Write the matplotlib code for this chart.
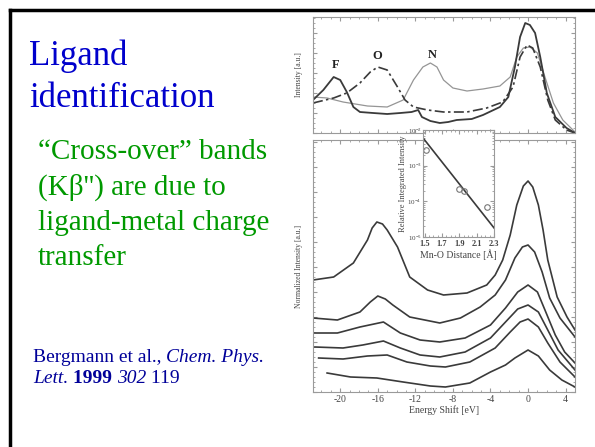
import matplotlib
matplotlib.use("Agg")
import matplotlib.pyplot as plt
from matplotlib.lines import Line2D
from matplotlib.ticker import MultipleLocator, LogLocator, NullFormatter

plt.rcParams['font.family'] = ['Liberation Serif', 'DejaVu Serif']
plt.rcParams['mathtext.fontset'] = 'stix'
plt.rcParams['axes.unicode_minus'] = False

# --- upper panel: ligand series (energy shift in eV, intensity a.u.) ---
energy_F = [-22.9, -21.8, -20.7, -20.0, -19.3, -18.6, -17.9, -16.5, -15.0, -13.6, -12.4, -11.7,
            -11.3, -10.4, -9.4, -8.5, -7.6, -6.0, -4.8, -3.0, -2.1, -1.4, -0.85, -0.3, 0.2, 0.75,
            1.3, 2.0, 2.9, 4.1, 5.0]
int_F = [33, 43, 56, 53, 41, 26, 21, 20, 19, 20, 21, 23, 16, 12, 10, 11, 13, 14, 18, 26, 36, 66,
         96, 110, 108, 100, 76, 40, 16, 5, 0]

energy_O = [-22.9, -20.7, -19.3, -17.9, -16.8, -16.0, -15.0, -13.9, -13.1, -12.2, -10.7, -9.0,
            -6.5, -4.4, -2.7, -1.6, -0.85, -0.1, 0.5, 1.3, 2.1, 2.9, 4.1, 5.0]
int_O = [30, 35, 40, 50, 61, 66, 63, 46, 33, 26, 23, 21, 21, 25, 31, 46, 76, 88, 85, 66, 33, 13, 3, 0]

energy_N = [-22.9, -21.4, -19.7, -17.1, -15.0, -13.3, -12.2, -11.2, -10.4, -9.7, -9.0, -8.0,
            -6.5, -4.8, -3.0, -1.9, -1.2, -0.5, 0.2, 1.0, 1.8, 2.7, 3.7, 5.0]
int_N = [36, 35, 31, 27, 26, 33, 53, 66, 70, 66, 53, 45, 42, 44, 47, 56, 76, 85, 86, 80, 56, 30, 13, 1]

# --- lower panel: normalized spectra, top to bottom ---
e1 = [-22.9, -20.7, -18.6, -17.1, -16.6, -16.1, -15.5, -15.0, -13.9, -12.6, -10.7, -9.0, -6.5,
      -4.4, -3.5, -2.7, -1.9, -1.2, -0.5, 0.0, 0.5, 1.1, 1.6, 2.1, 3.1, 4.15, 5.0]
s1 = [112, 115, 129, 152, 164, 170, 168, 162, 145, 115, 102, 97, 99, 107, 117, 132, 157, 187,
      206, 211, 205, 187, 162, 132, 95, 75, 62]
e2 = [-22.9, -20.3, -17.9, -16.8, -16.0, -15.2, -14.4, -12.6, -9.4, -7.2, -5.1, -3.5, -2.4, -1.4,
      -0.6, 0.0, 0.7, 1.5, 2.3, 3.4, 5.0]
s2 = [74, 72, 80, 90, 96, 93, 87, 75, 69, 74, 85, 97, 112, 134, 145, 147, 140, 120, 94, 74, 55]
e3 = [-22.9, -20.3, -17.9, -15.4, -13.6, -11.5, -9.4, -6.7, -4.0, -2.4, -1.1, 0.0, 1.0, 1.8, 2.9,
      3.9, 5.0]
s3 = [59, 59, 65, 70, 59, 52, 50, 54, 67, 84, 100, 107, 100, 82, 57, 40, 29]
e4 = [-22.7, -19.7, -17.6, -15.4, -13.6, -11.5, -9.4, -6.7, -4.0, -2.4, -1.1, 0.0, 1.1, 2.1, 3.2, 5.0]
s4 = [45, 44, 47, 51, 44, 37, 35, 40, 54, 70, 83, 87, 80, 62, 42, 22]
e5 = [-22.3, -19.7, -17.1, -15.0, -12.9, -10.4, -8.8, -6.2, -3.5, -1.9, -0.85, 0.0, 1.1, 2.1, 3.4, 5.0]
s5 = [34, 33, 36, 37, 30, 26, 25, 30, 44, 60, 70, 73, 65, 49, 30, 15]
e6 = [-21.4, -18.9, -16.1, -13.3, -10.4, -8.8, -6.2, -4.0, -2.4, -1.4, 0.0, 1.1, 2.3, 3.6, 5.0]
s6 = [19, 15, 14, 10, 6, 5, 9, 20, 27, 34, 42, 36, 22, 12, 5]

# --- inset: intensity vs Mn-O distance ---
mno_dist = [1.52, 1.89, 1.95, 2.22]
rel_int = [2.8e-3, 2.2e-4, 2.0e-4, 7e-5]
fit_dist = [1.48, 2.3]
fit_int = [6e-3, 1.8e-5]

x_ticks = [-20, -16, -12, -8, -4, 0, 4]
inset_ticks = [1.5, 1.7, 1.9, 2.1, 2.3]

W, H = 595, 447
fig = plt.figure(figsize=(W / 100, H / 100), dpi=100)

def fx(px):
    return px / W

def fy(py):
    return 1 - py / H

# slide border
fig.add_artist(Line2D([fx(10), fx(10)], [0, fy(10)], color='black', lw=2.5,
                      transform=fig.transFigure, solid_capstyle='projecting'))
fig.add_artist(Line2D([fx(10), 1], [fy(10), fy(10)], color='black', lw=2.5,
                      transform=fig.transFigure, solid_capstyle='projecting'))

spine_col = '#9a9a9a'
text_col = '#444444'
curve_col = '#3a3a3a'

def style_axes(ax):
    for sp in ax.spines.values():
        sp.set_color(spine_col)
        sp.set_linewidth(0.8)
    ax.tick_params(which='both', direction='in', top=True, right=True, colors=spine_col,
                   labelcolor=text_col, labelsize=7)
    ax.tick_params(which='major', length=3)
    ax.tick_params(which='minor', length=1.5)

# upper panel
ax1 = fig.add_axes([fx(313), fy(133), fx(575) - fx(313), fy(17) - fy(133)])
ax1.plot(energy_N, int_N, color='#959595', lw=0.9)
ax1.plot(energy_O, int_O, color=curve_col, lw=1.2, ls=(0, (6, 2, 1.5, 2)))
ax1.plot(energy_F, int_F, color=curve_col, lw=1.3)
ax1.set_xlim(-22.9, 5.0)
ax1.set_ylim(0, 116)
style_axes(ax1)
ax1.xaxis.set_major_locator(MultipleLocator(4))
ax1.xaxis.set_minor_locator(MultipleLocator(1))
ax1.yaxis.set_major_locator(MultipleLocator(20))
ax1.yaxis.set_minor_locator(MultipleLocator(5))
ax1.set_xticklabels([])
ax1.set_yticklabels([])
ax1.set_ylabel("Intensity [a.u.]", fontsize=5.5, color=text_col, labelpad=4)
for lab, lx, ly in [("F", -20.5, 68), ("O", -16.1, 77), ("N", -10.2, 78)]:
    ax1.text(lx, ly, lab, fontsize=9, weight='bold', color='#222222', ha='center', va='center')

# lower panel
ax2 = fig.add_axes([fx(313), fy(392), fx(575) - fx(313), fy(140) - fy(392)])
for e, s in [(e1, s1), (e2, s2), (e3, s3), (e4, s4), (e5, s5), (e6, s6)]:
    ax2.plot(e, s, color=curve_col, lw=1.2)
ax2.set_xlim(-22.9, 5.0)
ax2.set_ylim(0, 252)
style_axes(ax2)
ax2.set_xticks(x_ticks)
ax2.xaxis.set_minor_locator(MultipleLocator(1))
ax2.yaxis.set_major_locator(MultipleLocator(25))
ax2.yaxis.set_minor_locator(MultipleLocator(5))
ax2.set_yticklabels([])
ax2.tick_params(axis='x', pad=2)
ax2.set_xlabel("Energy Shift [eV]", fontsize=7, color=text_col, labelpad=1)
ax2.set_ylabel("Normalized Intensity [a.u.]", fontsize=5.5, color=text_col, labelpad=4)

# inset
ax3 = fig.add_axes([fx(423), fy(237), fx(494) - fx(423), fy(130) - fy(237)])
ax3.set_facecolor('white')
ax3.plot(fit_dist, fit_int, color=curve_col, lw=1.2)
ax3.plot(mno_dist, rel_int, 'o', mfc='none', mec='#777777', ms=4, mew=0.8)
ax3.set_yscale('log')
ax3.set_xlim(1.48, 2.3)
ax3.set_ylim(1e-5, 1e-2)
style_axes(ax3)
ax3.set_xticks(inset_ticks)
ax3.set_xticklabels([str(v) for v in inset_ticks], fontsize=6, weight='bold')
ax3.xaxis.set_minor_locator(MultipleLocator(0.05))
ax3.yaxis.set_major_locator(LogLocator(base=10, numticks=5))
ax3.yaxis.set_minor_locator(LogLocator(base=10, subs=range(2, 10), numticks=10))
ax3.yaxis.set_minor_formatter(NullFormatter())
ax3.tick_params(axis='y', labelsize=5, pad=1)
ax3.tick_params(axis='x', pad=2)
ax3.set_xlabel("Mn-O Distance [\u00c5]", fontsize=7, color=text_col, labelpad=1)
ax3.set_ylabel("Relative Integrated Intensity", fontsize=6, color=text_col, labelpad=0)

# slide text
blue = '#0000cc'
green = '#009900'
navy = '#000099'
fig.text(fx(29), fy(65), "Ligand", fontsize=25, color=blue, va='baseline')
fig.text(fx(29), fy(107), "identification", fontsize=25, color=blue, va='baseline')
green_lines = ["\u201cCross-over\u201d bands", "(K\u03b2'') are due to",
               "ligand-metal charge", "transfer"]
for i, line in enumerate(green_lines):
    fig.text(fx(38), fy(159 + 35.3 * i), line, fontsize=21, color=green, va='baseline')

# citation, built from pieces chained one after another
t = fig.text(fx(33), fy(362), "Bergmann et al., ", fontsize=14, color=navy, va='baseline')
ax2.annotate("Chem. Phys.", xy=(1, 0), xycoords=t, va='bottom', fontsize=14,
             color=navy, style='italic', annotation_clip=False)
prev = fig.text(fx(33), fy(383), "Lett", fontsize=14, color=navy, va='baseline', style='italic')
parts = [(". ", 'normal', 'normal'), ("1999 ", 'normal', 'bold'),
         ("302", 'italic', 'normal'), (" 119", 'normal', 'normal')]
for txt, st, wt in parts:
    prev = ax2.annotate(txt, xy=(1, 0), xycoords=prev, va='bottom', fontsize=14, color=navy,
                        style=st, weight=wt, annotation_clip=False)

fig.savefig("out.png", dpi=100)
